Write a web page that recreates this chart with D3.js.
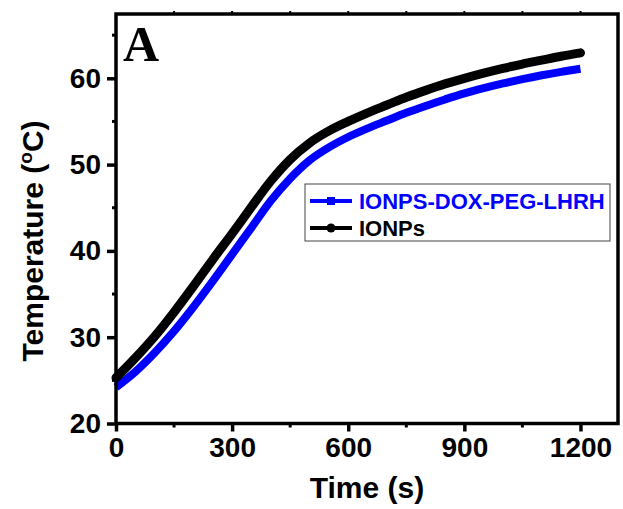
<!DOCTYPE html>
<html lang="en">
<head>
    <meta charset="UTF-8">
    <title>Temperature vs Time</title>
    <script src="https://d3js.org/d3.v7.min.js"></script>
    <style>
        body { margin: 0; background: #fff; }
        text { font-family: "Liberation Sans", Arial, sans-serif; font-weight: bold; }
    </style>
</head>
<body>
    <div id="chart"></div>
    <script>
        // Data (time in s, temperature in degC)
        const times = [0, 50, 100, 150, 200, 250, 300, 350, 400, 450, 500, 550, 600,
                       650, 700, 750, 800, 850, 900, 950, 1000, 1050, 1100, 1150, 1200];
        const ionps = [25.3, 27.6, 30.1, 32.9, 35.9, 39.0, 42.0, 45.1, 48.1, 50.6, 52.5, 53.9, 55.0,
                       56.0, 56.9, 57.8, 58.6, 59.35, 60.0, 60.6, 61.15, 61.65, 62.1, 62.55, 62.95];
        const ionpsDox = [24.2, 26.0, 28.2, 30.7, 33.5, 36.5, 39.6, 42.7, 45.8, 48.4, 50.5, 52.0, 53.2,
                          54.2, 55.1, 56.0, 56.8, 57.55, 58.25, 58.85, 59.4, 59.9, 60.35, 60.75, 61.1];
        const xTicks = [0, 300, 600, 900, 1200];
        const yTicks = [20, 30, 40, 50, 60];
        const seriesNames = ["IONPS-DOX-PEG-LHRH", "IONPs"];
        const seriesColors = ["#0000ff", "#000000"];

        const width = 623, height = 509;
        const mLeft = 116, mRight = 618, mTop = 14, mBottom = 423.5;

        const svg = d3.select("#chart").append("svg")
            .attr("width", width)
            .attr("height", height);

        const x = d3.scaleLinear().domain([0, 1297]).range([mLeft, mRight]);
        const y = d3.scaleLinear().domain([20, 67.45]).range([mBottom, mTop]);

        // minor ticks sit halfway between the labelled ones
        const xMinor = d3.range(150, 1300, 300);
        const yMinor = d3.range(25, 67, 10);

        const bottomAxis = d3.axisBottom(x).tickValues(xTicks).tickFormat(d3.format("d"))
            .tickSize(8).tickPadding(6);
        const leftAxis = d3.axisLeft(y).tickValues(yTicks).tickSize(9).tickPadding(6);

        const gx = svg.append("g").attr("transform", `translate(0,${mBottom})`).call(bottomAxis);
        const gy = svg.append("g").attr("transform", `translate(${mLeft},0)`).call(leftAxis);

        [gx, gy].forEach(g => {
            g.select(".domain").remove();
            g.selectAll(".tick line").attr("stroke", "#000").attr("stroke-width", 3.5);
            g.selectAll(".tick text").attr("fill", "#000").attr("font-size", 28);
        });

        svg.append("g").selectAll("line")
            .data(xMinor)
            .join("line")
            .attr("x1", d => x(d)).attr("x2", d => x(d))
            .attr("y1", mBottom).attr("y2", mBottom + 4)
            .attr("stroke", "#000").attr("stroke-width", 3);

        svg.append("g").selectAll("line")
            .data(yMinor)
            .join("line")
            .attr("y1", d => y(d)).attr("y2", d => y(d))
            .attr("x1", mLeft).attr("x2", mLeft - 4)
            .attr("stroke", "#000").attr("stroke-width", 3);

        // small ticks on top edge
        svg.append("g").selectAll("line")
            .data(d3.range(150, 1300, 150))
            .join("line")
            .attr("x1", d => x(d)).attr("x2", d => x(d))
            .attr("y1", mTop).attr("y2", mTop - 3)
            .attr("stroke", "#000").attr("stroke-width", 2);

        // curves
        const line = d3.line()
            .x(d => x(d[0]))
            .y(d => y(d[1]))
            .curve(d3.curveMonotoneX);

        svg.append("path")
            .datum(times.map((t, i) => [t, ionpsDox[i]]))
            .attr("d", line)
            .attr("fill", "none")
            .attr("stroke", seriesColors[0])
            .attr("stroke-width", 8)
            .attr("stroke-linecap", "butt");

        svg.append("path")
            .datum(times.map((t, i) => [t, ionps[i]]))
            .attr("d", line)
            .attr("fill", "none")
            .attr("stroke", seriesColors[1])
            .attr("stroke-width", 9)
            .attr("stroke-linecap", "round");

        // frame
        svg.append("rect")
            .attr("x", mLeft).attr("y", mTop)
            .attr("width", mRight - mLeft).attr("height", mBottom - mTop)
            .attr("fill", "none")
            .attr("stroke", "#000")
            .attr("stroke-width", 3.5);

        // panel label
        svg.append("text")
            .attr("x", 123).attr("y", 61)
            .style("font-family", "'Liberation Serif', 'Times New Roman', serif")
            .attr("font-size", 50)
            .attr("fill", "#000")
            .text("A");

        // axis titles
        svg.append("text")
            .attr("x", (mLeft + mRight) / 2).attr("y", 498)
            .attr("text-anchor", "middle")
            .attr("font-size", 30)
            .attr("fill", "#000")
            .text("Time (s)");

        const yt = svg.append("text")
            .attr("transform", "translate(43,241) rotate(-90)")
            .attr("text-anchor", "middle")
            .attr("font-size", 30)
            .attr("fill", "#000");
        yt.append("tspan").text("Temperature (");
        yt.append("tspan").attr("font-size", 19).attr("dy", -11).text("o");
        yt.append("tspan").attr("dy", 11).text("C)");

        // legend
        const legend = svg.append("g");
        legend.append("rect")
            .attr("x", 305).attr("y", 184)
            .attr("width", 305).attr("height", 57)
            .attr("fill", "#fff")
            .attr("stroke", "#444")
            .attr("stroke-width", 1);

        const rows = legend.selectAll("g.row")
            .data(seriesNames)
            .join("g")
            .attr("class", "row")
            .attr("transform", (d, i) => `translate(0,${201 + i * 27})`);

        rows.append("line")
            .attr("x1", 310).attr("x2", 352)
            .attr("stroke", (d, i) => seriesColors[i])
            .attr("stroke-width", 4);

        rows.each(function (d, i) {
            const g = d3.select(this);
            if (i === 0) {
                g.append("rect").attr("x", 327).attr("y", -4).attr("width", 8).attr("height", 8)
                    .attr("fill", seriesColors[i]);
            } else {
                g.append("circle").attr("cx", 331).attr("r", 4.5).attr("fill", seriesColors[i]);
            }
        });

        rows.append("text")
            .attr("x", 359).attr("y", 7.5)
            .attr("font-size", 22)
            .attr("fill", (d, i) => seriesColors[i])
            .text(d => d);
    </script>
</body>
</html>
